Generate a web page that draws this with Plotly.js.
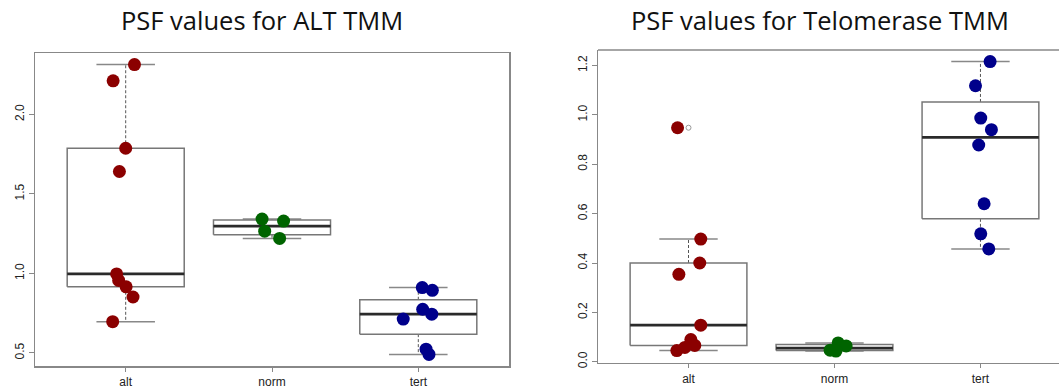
<!DOCTYPE html>
<html>
<head>
<meta charset="utf-8">
<script src="https://cdn.plot.ly/plotly-3.0.1.min.js"></script>
<style>html,body{margin:0;padding:0;background:#fff;}#chart{width:1059px;height:390px;}</style>
</head>
<body>
<div id="chart"></div>
<script>
// ---- data ----
const categories = ["alt", "norm", "tert"];
const titles = ["PSF values for ALT TMM", "PSF values for Telomerase TMM"];

// ALT TMM panel
const altTmm_alt  = [2.313, 2.211, 1.787, 1.641, 0.997, 0.956, 0.916, 0.852, 0.697];
const altTmm_altJitter  = [0.06, -0.086, 0.0, -0.043, -0.062, -0.048, 0.003, 0.05, -0.089];
const altTmm_norm = [1.342, 1.329, 1.266, 1.220];
const altTmm_normJitter = [-0.068, 0.079, -0.05, 0.052];
const altTmm_tert = [0.911, 0.894, 0.775, 0.744, 0.713, 0.524, 0.491];
const altTmm_tertJitter = [0.027, 0.096, 0.03, 0.092, -0.103, 0.053, 0.073];

// Telomerase TMM panel
const telTmm_alt  = [0.948, 0.497, 0.400, 0.354, 0.148, 0.090, 0.066, 0.058, 0.045];
const telTmm_altJitter  = [-0.075, 0.084, 0.077, -0.066, 0.084, 0.016, 0.043, -0.025, -0.08];
const telTmm_norm = [0.076, 0.064, 0.047, 0.043];
const telTmm_normJitter = [0.025, 0.08, -0.03, 0.01];
const telTmm_tert = [1.216, 1.118, 0.987, 0.940, 0.878, 0.640, 0.518, 0.457];
const telTmm_tertJitter = [0.066, -0.034, 0.002, 0.075, -0.012, 0.025, 0.002, 0.057];

const groupColors = ["#8B0000", "#006400", "#00008B"];

// ---- helpers ----
function fivenum(vals){
  const s=[...vals].sort((a,b)=>a-b), n=s.length;
  const n4=Math.floor((n+3)/2)/2;
  const d=[1,n4,(n+1)/2,n+1-n4,n];
  return d.map(v=>0.5*(s[Math.floor(v)-1]+s[Math.ceil(v)-1]));
}
function boxStats(vals){
  const f=fivenum(vals), iqr=f[3]-f[1];
  const lo=f[1]-1.5*iqr, hi=f[3]+1.5*iqr;
  const inside=vals.filter(v=>v>=lo&&v<=hi);
  return {q1:f[1],med:f[2],q3:f[3],wlo:Math.min(...inside),whi:Math.max(...inside),
          out:vals.filter(v=>v<lo||v>hi)};
}

function panelTraces(groups, jitters, xa, ya){
  const bw=0.4, cw=0.2;
  const box={x:[],y:[]}, med={x:[],y:[]}, wh={x:[],y:[]}, cap={x:[],y:[]}, out={x:[],y:[]};
  groups.forEach((g,i)=>{
    const c=i+1, st=boxStats(g);
    box.x.push(c-bw,c+bw,c+bw,c-bw,c-bw,null); box.y.push(st.q1,st.q1,st.q3,st.q3,st.q1,null);
    med.x.push(c-bw,c+bw,null); med.y.push(st.med,st.med,null);
    wh.x.push(c,c,null,c,c,null); wh.y.push(st.q3,st.whi,null,st.q1,st.wlo,null);
    cap.x.push(c-cw,c+cw,null,c-cw,c+cw,null); cap.y.push(st.whi,st.whi,null,st.wlo,st.wlo,null);
    st.out.forEach(v=>{out.x.push(c);out.y.push(v);});
  });
  const base={xaxis:xa,yaxis:ya,hoverinfo:"skip",showlegend:false};
  const tr=[
    Object.assign({type:"scatter",mode:"lines",x:wh.x,y:wh.y,line:{color:"#555",width:1,dash:"3px,2px"}},base),
    Object.assign({type:"scatter",mode:"lines",x:cap.x,y:cap.y,line:{color:"#888",width:1.5}},base),
    Object.assign({type:"scatter",mode:"lines",x:box.x,y:box.y,fill:"toself",fillcolor:"#fff",line:{color:"#777",width:1.5}},base),
    Object.assign({type:"scatter",mode:"lines",x:med.x,y:med.y,line:{color:"#2a2a2a",width:2.8}},base),
    Object.assign({type:"scatter",mode:"markers",x:out.x,y:out.y,marker:{symbol:"circle-open",size:5,color:"#999",line:{width:1}}},base)
  ];
  groups.forEach((g,i)=>{
    tr.push(Object.assign({type:"scatter",mode:"markers",
      x:g.map((v,k)=>i+1+jitters[i][k]), y:g,
      marker:{size:13,color:groupColors[i],line:{width:0}}},base));
  });
  return tr;
}

function yRange(groups){
  const all=[].concat(...groups), lo=Math.min(...all), hi=Math.max(...all), e=(hi-lo)*0.04;
  return [lo-e, hi+e];
}

const g1=[altTmm_alt,altTmm_norm,altTmm_tert], j1=[altTmm_altJitter,altTmm_normJitter,altTmm_tertJitter];
const g2=[telTmm_alt,telTmm_norm,telTmm_tert], j2=[telTmm_altJitter,telTmm_normJitter,telTmm_tertJitter];

const data=[].concat(panelTraces(g1,j1,"x","y"), panelTraces(g2,j2,"x2","y2"));

const W=1059,H=390;
const tickFont={family:"Liberation Sans, Arial, sans-serif",size:12,color:"#222"};
const axCommon={showgrid:false,zeroline:false,showline:true,linecolor:"#888",linewidth:1.5,
  ticks:"outside",ticklen:5,tickcolor:"#888",tickwidth:1,tickfont:tickFont,fixedrange:true};

const layout={
  width:W,height:H,margin:{l:0,r:0,t:0,b:0},paper_bgcolor:"#fff",plot_bgcolor:"#fff",
  showlegend:false,
  xaxis:Object.assign({},axCommon,{domain:[35/W,509/W],range:[0.38,3.62],tickvals:[1,2,3],ticktext:categories,mirror:true,anchor:"y",ticklen:4}),
  yaxis:Object.assign({},axCommon,{domain:[(H-366)/H,(H-53)/H],range:yRange(g1),dtick:0.5,tick0:0,tickformat:".1f",tickangle:-90,mirror:true,anchor:"x"}),
  xaxis2:Object.assign({},axCommon,{domain:[598/W,1],range:[0.38,3.538],tickvals:[1,2,3],ticktext:categories,anchor:"y2",ticklen:4}),
  yaxis2:Object.assign({},axCommon,{domain:[(H-362.7)/H,(H-50)/H],range:yRange(g2),dtick:0.2,tick0:0,tickformat:".1f",tickangle:-90,anchor:"x2"}),
  shapes:[{type:"line",xref:"x2 domain",yref:"y2 domain",x0:0,x1:1,y0:1,y1:1,line:{color:"#888",width:1.5}}],
  annotations:[
    {text:titles[0],xref:"paper",yref:"paper",x:261.5/W,y:1-20/H,xanchor:"center",yanchor:"middle",showarrow:false,
     font:{family:"Open Sans, sans-serif",size:25.5,color:"#111"}},
    {text:titles[1],xref:"paper",yref:"paper",x:820/W,y:1-20/H,xanchor:"center",yanchor:"middle",showarrow:false,
     font:{family:"Open Sans, sans-serif",size:25.5,color:"#111"}}
  ]
};
Plotly.newPlot("chart",data,layout,{displayModeBar:false,staticPlot:true});
</script>
</body>
</html>
